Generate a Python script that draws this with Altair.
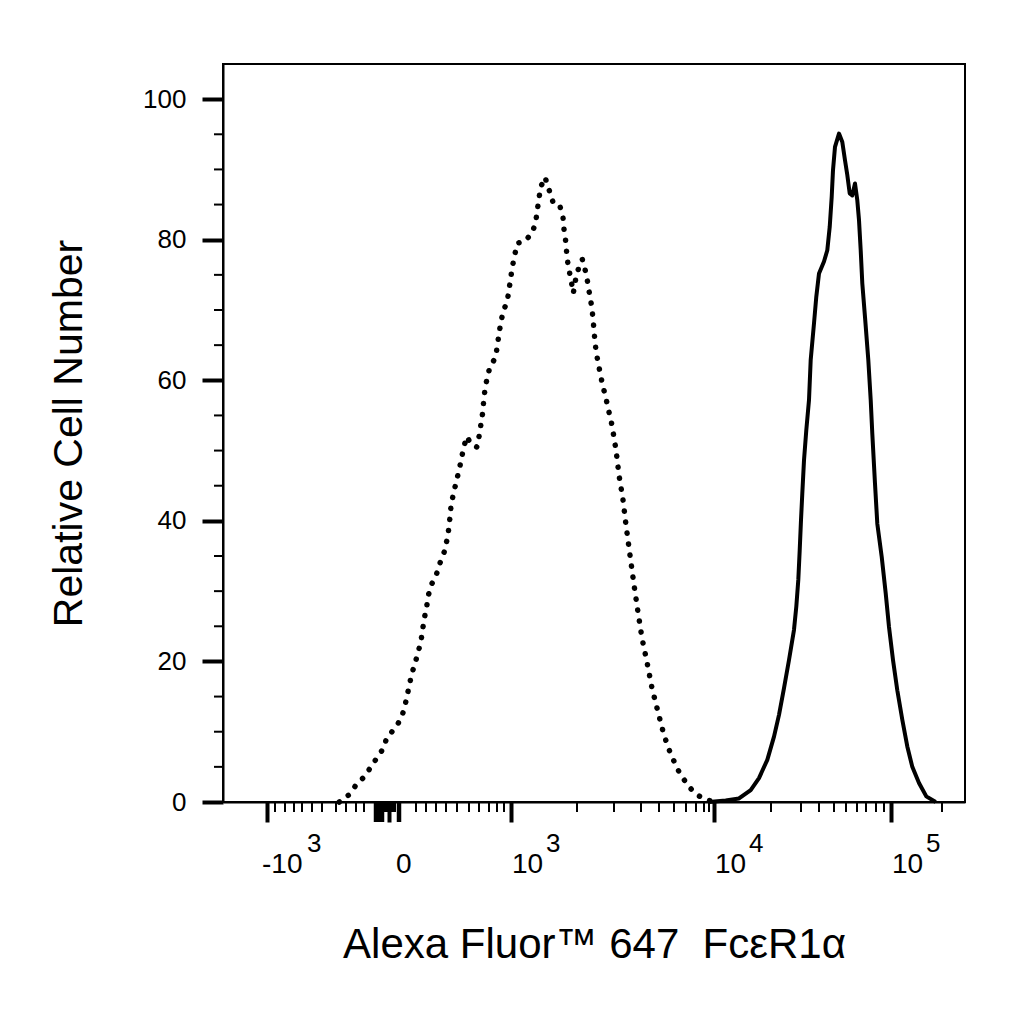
import altair as alt
import pandas as pd

W, H = 742, 738  # plot area (frame) in px

# Isotype control (dotted) - x in display channel units, y in % of max
iso_x = [116.3, 125.7, 133.0, 141.3, 148.0, 154.0, 160.3, 163.7, 171.3, 178.0,
         181.3, 184.0, 186.3, 188.7, 192.0, 195.3, 198.0, 199.7, 201.3, 203.7,
         205.3, 208.7, 213.7, 217.0, 221.3, 224.0, 225.7, 227.0, 228.0, 230.3,
         233.0, 235.7, 238.0, 240.3, 243.7, 248.7, 254.0, 256.3, 258.0, 259.7,
         260.7, 262.0, 263.7, 266.7, 272.7, 274.3, 276.0, 277.7, 280.0, 284.3,
         286.0, 287.7, 289.3, 291.7, 294.3, 302.0, 309.3, 312.7, 314.3, 316.0,
         317.7, 322.0, 327.0, 330.3, 336.7, 340.0, 341.0, 342.7, 343.7, 345.0,
         347.0, 349.3, 350.3, 352.7, 355.3, 359.3, 362.7, 365.0, 366.7, 368.7,
         370.0, 371.0, 372.0, 373.3, 375.3, 377.7, 380.0, 382.7, 385.0, 389.0,
         393.0, 396.0, 400.0, 403.0, 407.0, 411.0, 415.0, 419.0, 424.0, 429.0,
         435.0, 441.0, 448.0, 456.0, 465.0, 474.0, 484.0, 492.0]
iso_y = [0.0, 1.0, 2.4, 3.6, 5.0, 6.3, 7.6, 9.1, 10.4, 11.8,
         13.3, 15.0, 16.6, 18.2, 19.7, 21.4, 22.9, 24.6, 26.1, 27.8,
         29.4, 31.0, 32.5, 34.0, 35.6, 37.3, 38.8, 40.5, 42.1, 43.8,
         45.4, 47.0, 48.5, 50.2, 52.0, 50.8, 50.5, 52.2, 53.8, 55.4,
         57.1, 58.7, 60.0, 61.8, 63.3, 64.9, 66.6, 68.1, 69.7, 71.3,
         72.9, 74.5, 76.1, 77.8, 79.5, 79.8, 81.0, 82.5, 84.2, 85.9,
         87.5, 88.9, 86.7, 85.2, 84.9, 83.2, 81.5, 79.8, 78.1, 76.5,
         75.0, 73.3, 72.4, 74.4, 75.8, 77.2, 75.4, 73.7, 72.1, 70.5,
         68.8, 67.1, 65.5, 63.9, 62.4, 60.6, 59.1, 57.6, 56.1, 53.6,
         50.1, 46.5, 43.0, 39.4, 35.1, 30.9, 27.0, 23.3, 19.9, 16.2,
         12.8, 9.5, 6.7, 4.3, 2.3, 1.0, 0.3, 0.0]

# FceR1a stained (solid)
stain_x = [486.0, 502.7, 516.0, 527.7, 536.0, 544.3, 551.0, 556.0, 561.0, 566.0,
           571.0, 573.3, 575.3, 576.7, 578.0, 579.3, 581.0, 583.3, 586.0, 587.7,
           591.0, 593.3, 596.0, 601.0, 604.3, 606.7, 608.7, 610.0, 612.0, 616.0,
           619.3, 622.0, 624.3, 626.7, 629.3, 632.0, 634.3, 636.0, 637.7, 639.3,
           642.0, 645.3, 647.7, 649.3, 652.0, 654.3, 658.7, 662.7, 666.0, 670.0,
           674.3, 679.3, 684.3, 689.3, 696.0, 703.3, 712.7]
stain_y = [0.0, 0.2, 0.5, 1.7, 3.4, 6.0, 9.3, 12.4, 16.2, 20.2,
           24.5, 27.8, 31.6, 35.8, 40.1, 43.9, 48.6, 52.9, 57.2, 62.9,
           68.1, 71.9, 75.2, 76.9, 78.5, 81.8, 86.1, 89.9, 93.2, 95.1,
           93.9, 91.3, 89.2, 86.6, 86.3, 88.0, 85.6, 82.8, 78.5, 73.8,
           69.0, 62.9, 57.2, 52.4, 45.3, 39.6, 34.9, 29.7, 24.9, 20.2,
           15.9, 11.7, 7.9, 5.0, 2.7, 0.8, 0.0]

# x axis ticks (display channel units)
major_ticks = [44, 166, 288, 491, 668]
cluster_ticks = [152, 154, 156, 158, 160, 175, 177]
minor_ticks = [52, 62, 71, 79, 89, 99, 113, 123, 133, 141,
               162, 164, 166, 168, 170, 172,
               193, 203, 213, 223, 234, 246, 256, 266, 274, 281,
               354, 391, 418, 436, 451, 463, 473, 481, 486,
               548, 578, 596, 611, 623, 634, 643, 653, 661, 719]
tick_base = ["-10", "0", "10", "10", "10"]
tick_exp = ["3", "", "3", "4", "5"]
tick_sign = ["neg", "zero", "pos", "pos", "pos"]

y_major = [0, 20, 40, 60, 80, 100]
y_minor = [5, 10, 15, 25, 30, 35, 45, 50, 55, 65, 70, 75, 85, 90, 95]

iso = pd.DataFrame({"x": iso_x, "y": iso_y, "o": list(range(len(iso_x)))})
stain = pd.DataFrame({"x": stain_x, "y": stain_y, "o": list(range(len(stain_x)))})
labels = pd.DataFrame({"x": major_ticks, "base": tick_base, "exp": tick_exp, "sign": tick_sign})
xminor = pd.DataFrame({"x": minor_ticks})
xcluster = pd.DataFrame({"x": cluster_ticks})
yminor = pd.DataFrame({"y": y_minor})

FONT = "Liberation Sans"
xscale = alt.Scale(domain=[0, W], nice=False, zero=False)
yscale = alt.Scale(domain=[0, 105], nice=False)

x_axis = alt.Axis(
    values=major_ticks, labels=False, grid=False,
    title="Alexa Fluor\u2122 647\u00a0\u00a0Fc\u03b5R1\u03b1",
    titleFontSize=42, titleFontWeight="normal", titleColor="black",
    titlePadding=100,
    tickColor="black", domainColor="black", domainWidth=2,
    tickSize=20, tickWidth=4,
)
y_axis = alt.Axis(
    values=y_major, grid=False,
    labelFontSize=26, labelColor="black", labelPadding=16,
    title="Relative Cell Number", titleFontSize=41,
    titleFontWeight="normal", titleColor="black", titlePadding=52,
    tickColor="black", domainColor="black", domainWidth=2,
    tickSize=21, tickWidth=4,
)

iso_line = alt.Chart(iso).mark_line(
    color="black", strokeWidth=5.5, strokeDash=[0.1, 11], strokeCap="round"
).encode(
    x=alt.X("x:Q", scale=xscale, axis=x_axis),
    y=alt.Y("y:Q", scale=yscale, axis=y_axis),
    order="o:Q",
)
stain_line = alt.Chart(stain).mark_line(
    color="black", strokeWidth=4, strokeJoin="round"
).encode(
    x=alt.X("x:Q"),
    y=alt.Y("y:Q"),
    order="o:Q",
)

xminor_rules = alt.Chart(xminor).mark_rule(color="black", strokeWidth=2).encode(
    x=alt.X("x:Q"), y=alt.value(H), y2=alt.value(H + 10)
)
xcluster_rules = alt.Chart(xcluster).mark_rule(color="black", strokeWidth=2.5).encode(
    x=alt.X("x:Q"), y=alt.value(H), y2=alt.value(H + 20)
)
yminor_rules = alt.Chart(yminor).mark_rule(color="black", strokeWidth=2).encode(
    y=alt.Y("y:Q"), x=alt.value(0), x2=alt.value(-9)
)


def base_text(sign, dx):
    return alt.Chart(labels).transform_filter(
        alt.datum.sign == sign
    ).mark_text(
        font=FONT, fontSize=28, align="left", baseline="alphabetic", dx=dx, color="black"
    ).encode(x=alt.X("x:Q"), y=alt.value(H + 71), text="base:N")


def exp_text(sign, dx):
    return alt.Chart(labels).transform_filter(
        alt.datum.sign == sign
    ).mark_text(
        font=FONT, fontSize=26, align="left", baseline="alphabetic", dx=dx, color="black"
    ).encode(x=alt.X("x:Q"), y=alt.value(H + 50), text="exp:N")


chart = alt.layer(
    iso_line, stain_line, xminor_rules, xcluster_rules, yminor_rules,
    base_text("neg", -5), base_text("zero", 7), base_text("pos", 1),
    exp_text("neg", 40), exp_text("pos", 35),
).properties(
    width=W, height=H,
    padding={"left": 40, "top": 56, "right": 10, "bottom": 10},
).configure(
    font=FONT, background="white"
).configure_axis(
    labelFont=FONT, titleFont=FONT
).configure_view(
    stroke="black", strokeWidth=2
)

chart.save("out.html", embed_options={"renderer": "svg", "actions": False})
